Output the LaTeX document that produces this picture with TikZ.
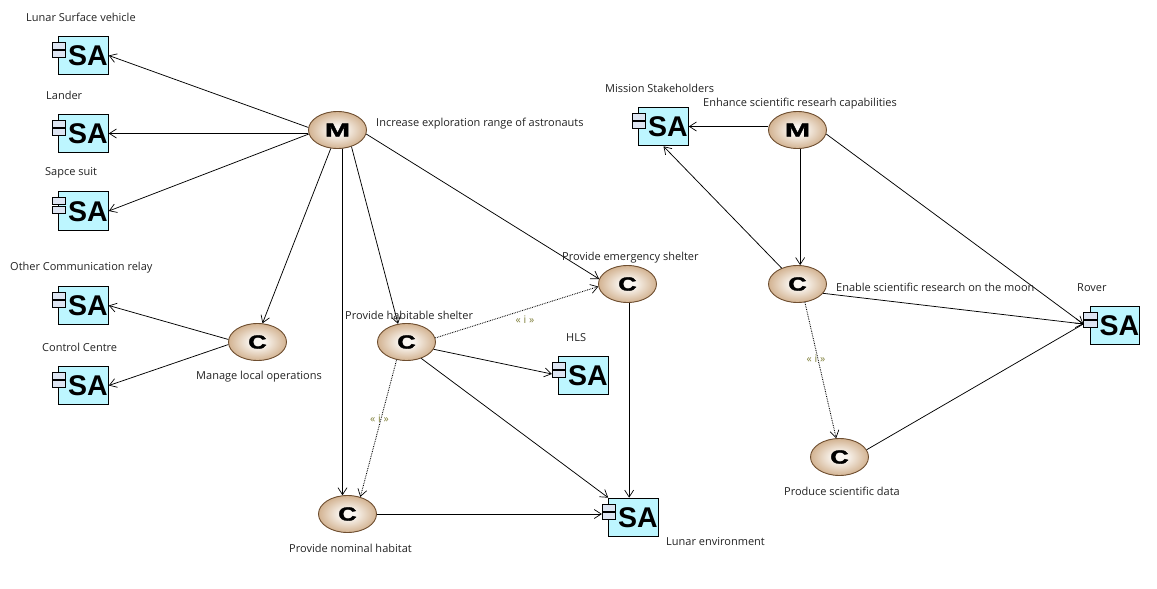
\documentclass[tikz,border=0pt]{standalone}
\usepackage{fontspec}
\usepackage{graphicx}
\setmainfont{Open Sans}
\newfontfamily\sabold{Liberation Sans}
\newfontfamily\ovalfont[BoldFeatures={FakeBold=1.6}]{Liberation Sans}
\usetikzlibrary{arrows.meta,shapes.geometric}
\definecolor{saFill}{HTML}{BDF6FF}
\definecolor{tabFill}{HTML}{DDE5F2}
\definecolor{ovalIn}{HTML}{FAF6F1}
\definecolor{ovalOut}{HTML}{C49A6E}
\definecolor{ovalLine}{HTML}{6E4E30}
\definecolor{stereo}{HTML}{7F7F3A}
\definecolor{labelInk}{HTML}{222222}
\pgfdeclareradialshading{ovalshade}{\pgfpoint{0bp}{0bp}}{color(0bp)=(ovalIn); color(6bp)=(ovalIn); color(32bp)=(ovalOut); color(50bp)=(ovalOut)}
\tikzset{
  x=1pt,y=-1pt,
  sabox/.style={draw=black,line width=1.1pt,fill=saFill,rectangle,minimum width=49.5pt,minimum height=38.5pt,inner sep=0pt},
  satab/.style={draw=black,line width=0.8pt,fill=tabFill,rectangle,minimum width=13.5pt,minimum height=7pt,inner sep=0pt},
  satext/.style={inner sep=0pt,font=\sabold\bfseries\fontsize{28.5}{29}\selectfont},
  oval/.style={ellipse,draw=ovalLine,line width=0.9pt,shade,shading=ovalshade,minimum width=58pt,minimum height=37pt,inner sep=0pt,
    font=\ovalfont\bfseries\fontsize{19}{19}\selectfont},
  lab/.style={anchor=west,inner sep=0pt,text=labelInk,font=\fontsize{11}{13}\selectfont},
  stereotype/.style={inner sep=0pt,text=stereo,font=\fontsize{10.5}{12}\selectfont},
  conn/.style={draw=black,line width=0.75pt,-{Straight Barb[length=7pt,width=9pt,line width=0.7pt]}},
  plainline/.style={draw=black,line width=0.75pt},
  dotconn/.style={conn,densely dotted,line width=0.9pt},
}
\newcommand{\saunit}[3]{%
  \node[sabox] (#1) at (#2,#3) {};
  \node[satab] (#1-a) at (#2-24.5,#3-10) {};
  \node[satab] (#1-b) at (#2-24.5,#3-1.5) {};
  \node[satext] (#1-t) at (#2+4.5,#3+0.5) {SA};
}
\newcommand{\mletter}{\scalebox{1.6}[1]{M}}
\newcommand{\cletter}{\scalebox{1.35}[1]{C}}
\begin{document}
\begin{tikzpicture}
\useasboundingbox (0,0) rectangle (1157,589);
% SA units
\saunit{lsv}{83.5}{55.5}
\saunit{lander}{83.5}{133.5}
\saunit{suit}{83.5}{211}
\saunit{relay}{83.5}{305.5}
\saunit{control}{83.5}{385.5}
\saunit{stake}{663.5}{126.5}
\saunit{hls}{583.5}{375.5}
\saunit{lunar}{633.5}{517.5}
\saunit{rover}{1115}{325.5}
% ovals
\node[oval] (m1) at (337.5,130) {\mletter};
\node[oval] (m2) at (797.5,130) {\mletter};
\node[oval] (manage) at (257.5,342) {\cletter};
\node[oval] (hab) at (406.5,342) {\cletter};
\node[oval] (emerg) at (627.5,284) {\cletter};
\node[oval] (enable) at (797.5,284) {\cletter};
\node[oval] (nominal) at (347.5,514) {\cletter};
\node[oval] (produce) at (839.5,457) {\cletter};
% connectors
\draw[conn] (m1.175) -- (lsv.east);
\draw[conn] (m1.west |- lander.east) -- (lander.east);
\draw[conn] (m1.188) -- (suit.east);
\draw[conn] (m1.-110) -- (manage.75);
\draw[conn] (m1.-75) -- (nominal.105);
\draw[conn] (m1.-50) -- (hab.115);
\draw[conn] (m1.-8) -- (emerg.170);
\draw[conn] (manage.175) -- (relay.east);
\draw[conn] (manage.185) -- (control.east);
\draw[dotconn] (hab.8) -- (emerg.185);
\draw[conn] (hab.-15) -- (hls-b.west);
\draw[conn] (hab.-48) -- (lunar.north west);
\draw[dotconn] (hab.-119) -- (nominal.53);
\draw[conn] (emerg.-85) -- (emerg.-85 |- lunar.north);
\draw[conn] (nominal.east) -- (lunar-b.west |- nominal.east);
\draw[conn] (m2.west |- stake.east) -- (stake.east);
\draw[conn] (m2.-82) -- (enable.82);
\draw[conn] (m2.-8) -- (rover-b.west);
\draw[conn] (enable.135) -- (stake.south);
\draw[conn] (enable.-20) -- (rover-b.west);
\draw[dotconn] (enable.-68) -- (produce.100);
\draw[plainline] (produce.15) -- (rover-b.west);
% labels
\node[lab] (l1) at (26,17.5) {Lunar Surface vehicle};
\node[lab] (l2) at (46,95.5) {Lander};
\node[lab] (l3) at (45,173) {Sapce suit};
\node[lab] (l4) at (10,267.5) {Other Communication relay};
\node[lab] (l5) at (42,347.5) {Control Centre};
\node[lab] (l6) at (196,376.5) {Manage local operations};
\node[lab] (l7) at (376,124) {Increase exploration range of astronauts};
\node[lab] (l8) at (605,88.5) {Mission Stakeholders};
\node[lab] (l9) at (703,103.5) {Enhance scientific researh capabilities};
\node[lab] (l10) at (562,257.5) {Provide emergency shelter};
\node[lab] (l11) at (836,287.5) {Enable scientific research on the moon};
\node[lab] (l12) at (1077,287.5) {Rover};
\node[lab] (l13) at (345,315.5) {Provide habitable shelter};
\node[lab] (l14) at (566,337.5) {HLS};
\node[lab] (l15) at (289,548.5) {Provide nominal habitat};
\node[lab] (l16) at (666,541.5) {Lunar environment};
\node[lab] (l17) at (784,491.5) {Produce scientific data};
\node[stereotype] (s1) at (525,319.5) {« i »};
\node[stereotype] (s2) at (379.5,419) {« i »};
\node[stereotype] (s3) at (816,358.5) {« i »};
\end{tikzpicture}
\end{document}
